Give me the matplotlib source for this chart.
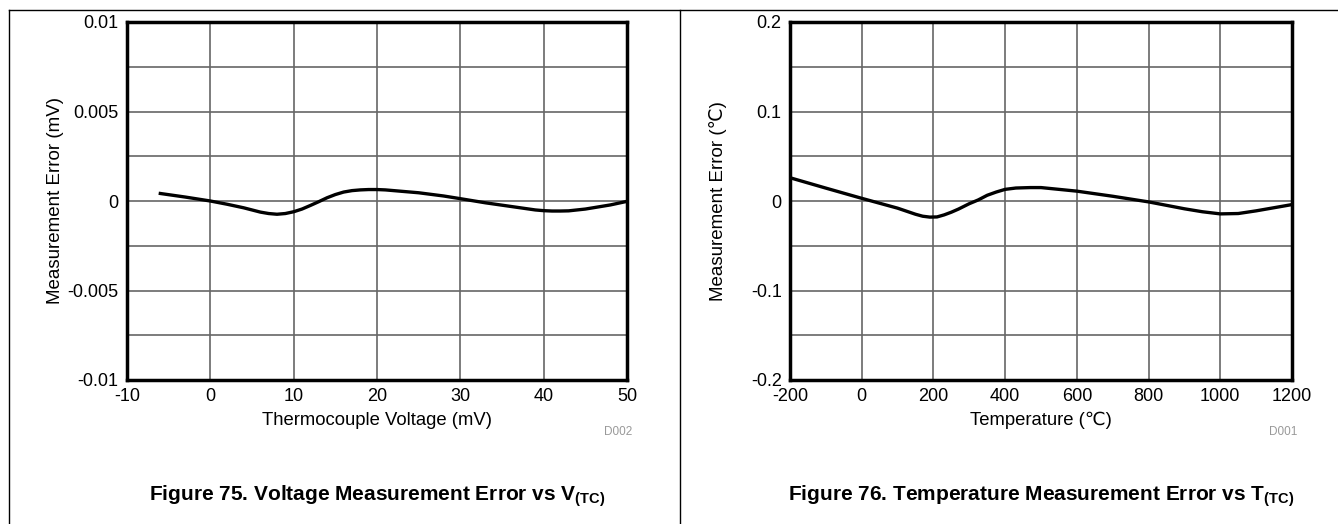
import matplotlib
matplotlib.use("Agg")
import matplotlib.pyplot as plt
from matplotlib.lines import Line2D

plt.rcParams['font.family'] = ['Liberation Sans', 'DejaVu Sans']
plt.rcParams['mathtext.fontset'] = 'custom'
plt.rcParams['mathtext.rm'] = 'Liberation Sans'
plt.rcParams['mathtext.bf'] = 'Liberation Sans:bold'

# Figure 75: voltage error vs thermocouple voltage
volt_x = [-6, -3, 0, 2, 4, 6, 7, 8, 9, 10, 11, 12, 13, 14, 15, 16, 17, 18,
          19, 20, 21, 22, 25, 28, 30, 33, 36, 39, 40, 41, 42, 43, 45, 48, 50]
volt_err = [0.00042, 0.00022, 0.0, -0.00018, -0.00038, -0.00062, -0.00070,
            -0.00074, -0.00070, -0.00060, -0.00045, -0.00025, -0.00004,
            0.00018, 0.00036, 0.00050, 0.00058, 0.00062, 0.00064, 0.00064,
            0.00062, 0.00058, 0.00046, 0.00028, 0.00013, -0.00010, -0.00030,
            -0.00050, -0.00054, -0.00056, -0.00056, -0.00055, -0.00045,
            -0.00022, -0.00002]

# Figure 76: temperature error vs temperature
temp_x = [-200, -100, 0, 100, 150, 170, 190, 210, 230, 250, 270, 300, 325,
          350, 375, 400, 430, 470, 500, 600, 700, 800, 900, 950, 1000, 1050,
          1100, 1200]
temp_err = [0.026, 0.0144, 0.003, -0.008, -0.0148, -0.0170, -0.0180, -0.0178,
            -0.0155, -0.0125, -0.0090, -0.003, 0.0012, 0.0064, 0.0100, 0.013,
            0.0145, 0.015, 0.015, 0.011, 0.0053, -0.001, -0.0087, -0.0120,
            -0.0144, -0.0140, -0.011, -0.004]

W, H = 1338, 524
fig = plt.figure(figsize=(W / 100, H / 100), dpi=100)


def px_box(left, top, right, bottom):
    return [left / W, 1 - bottom / H, (right - left) / W, (bottom - top) / H]


def setup(ax, xlim, xticks, xlabels, ylim, yticks, ylabels, minor_y, xlabel, ylabel, tag, caption):
    ax.set_xlim(*xlim)
    ax.set_ylim(*ylim)
    ax.set_xticks(xticks)
    ax.set_xticklabels(xlabels, fontsize=13)
    ax.set_yticks(yticks)
    ax.set_yticklabels(ylabels, fontsize=13)
    ax.set_yticks(minor_y, minor=True)
    ax.tick_params(which='both', length=0)
    ax.tick_params(axis='y', pad=6)
    ax.tick_params(axis='x', pad=6)
    ax.grid(True, which='both', color='#666666', linewidth=1.2)
    for s in ax.spines.values():
        s.set_linewidth(2.5)
        s.set_color('black')
    ax.set_xlabel(xlabel, fontsize=13.3)
    ax.xaxis.set_label_coords(0.5, -0.113)
    ax.xaxis.label.set_va('center')
    ax.set_ylabel(ylabel, fontsize=13.5)
    ax.yaxis.set_label_coords(-0.144, 0.5)
    ax.yaxis.label.set_va('center')
    ax.text(1.01, -0.145, tag, transform=ax.transAxes, fontsize=8.5,
            color='#999999', ha='right', va='center')
    ax.text(0.5, -0.325, caption, transform=ax.transAxes, fontsize=15,
            fontweight='bold', ha='center', va='center')


ax1 = fig.add_axes(px_box(127, 22, 627, 380))
ax1.plot(volt_x, volt_err, color='black', linewidth=2.4, zorder=3)
setup(ax1, (-10, 50), [-10, 0, 10, 20, 30, 40, 50],
      ['-10', '0', '10', '20', '30', '40', '50'],
      (-0.01, 0.01), [-0.01, -0.005, 0, 0.005, 0.01],
      ['-0.01', '-0.005', '0', '0.005', '0.01'],
      [-0.0075, -0.0025, 0.0025, 0.0075],
      'Thermocouple Voltage (mV)', 'Measurement Error (mV)', 'D002',
      r'Figure 75. Voltage Measurement Error vs V$_{\mathbf{(TC)}}$')

ax2 = fig.add_axes(px_box(790, 22, 1292, 380))
ax2.plot(temp_x, temp_err, color='black', linewidth=2.4, zorder=3)
setup(ax2, (-200, 1200), [-200, 0, 200, 400, 600, 800, 1000, 1200],
      ['-200', '0', '200', '400', '600', '800', '1000', '1200'],
      (-0.2, 0.2), [-0.2, -0.1, 0, 0.1, 0.2],
      ['-0.2', '-0.1', '0', '0.1', '0.2'],
      [-0.15, -0.05, 0.05, 0.15],
      'Temperature (\u2103)', 'Measurement Error (\u2103)', 'D001',
      r'Figure 76. Temperature Measurement Error vs T$_{\mathbf{(TC)}}$')

# page frame lines
for xs, ys in [((9, W), (10, 10)), ((9, 9), (10, H)), ((680, 680), (10, H))]:
    fig.add_artist(Line2D([x / W for x in xs], [1 - y / H for y in ys],
                          color='black', linewidth=1))

fig.savefig('out.png', dpi=100)
